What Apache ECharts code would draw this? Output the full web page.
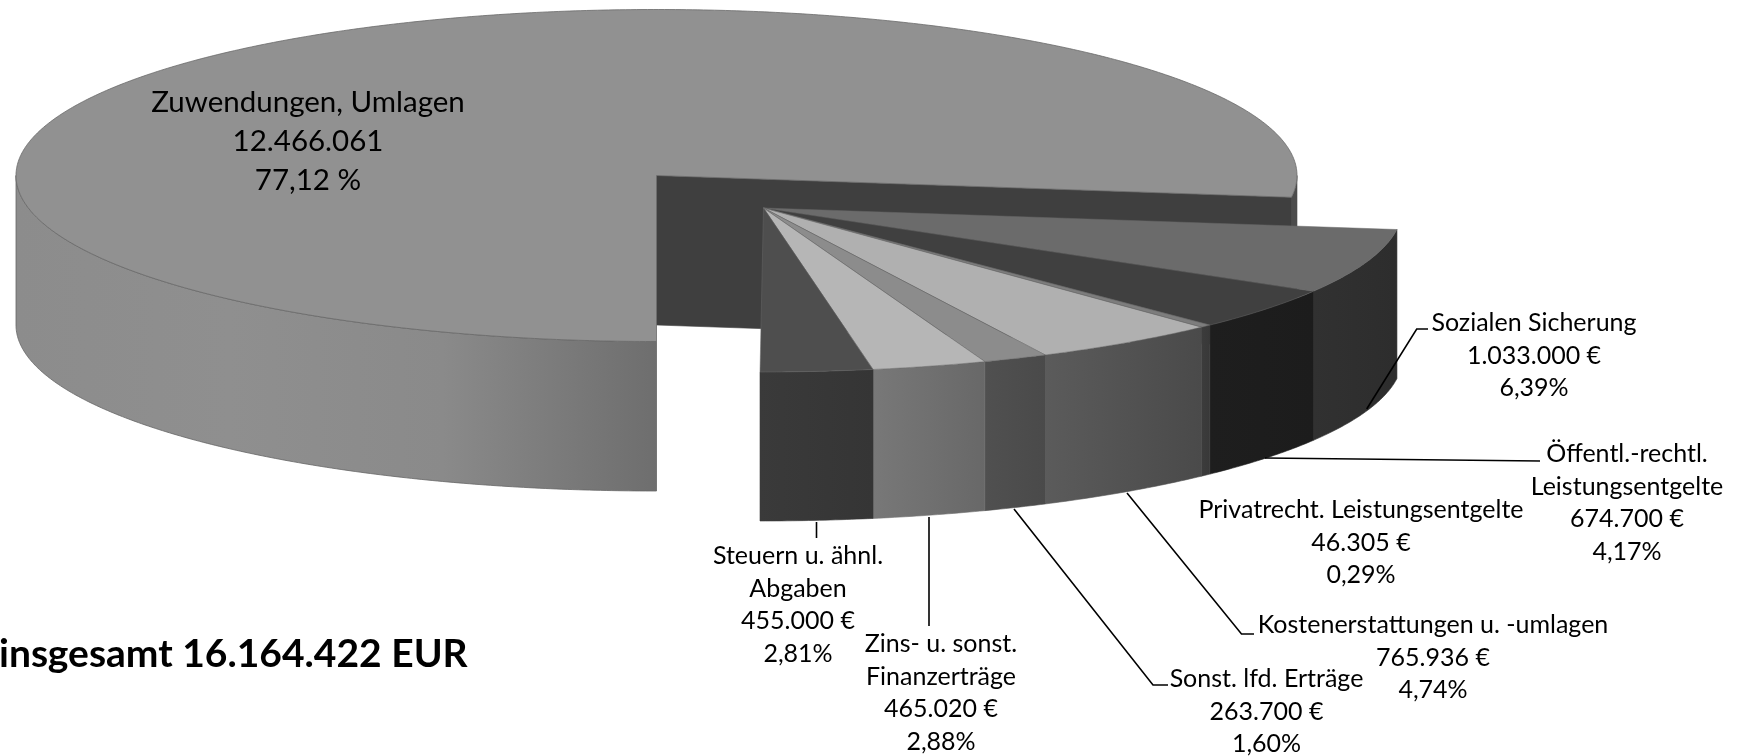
<!DOCTYPE html>
<html><head><meta charset="utf-8">
<style>html,body{margin:0;padding:0;background:#fff}#c{width:1738px;height:756px}</style>
<script src="https://cdn.jsdelivr.net/npm/echarts@6/dist/echarts.min.js"></script>
</head><body><div id="c"></div>
<script>
const sliceNames = ['Zuwendungen, Umlagen','Sozialen Sicherung','Öffentl.-rechtl.\nLeistungsentgelte','Privatrecht. Leistungsentgelte','Kostenerstattungen u. -umlagen','Sonst. lfd. Erträge','Zins- u. sonst.\nFinanzerträge','Steuern u. ähnl.\nAbgaben'];
const sliceValues = [12466061,1033000,674700,46305,765936,263700,465020,455000];
const valueLabels = ['12.466.061','1.033.000 €','674.700 €','46.305 €','765.936 €','263.700 €','465.020 €','455.000 €'];
const shareLabels = ['77,12 %','6,39%','4,17%','0,29%','4,74%','1,60%','2,88%','2,81%'];
const totalLabel = 'insgesamt 16.164.422 EUR';

/* styling and layout */
const topColors = ['#919191','#6b6b6b','#404040','#7d7d7d','#b0b0b0','#8c8c8c','#b6b6b6','#4e4e4e'];
const sideColors = [['#8c8c8c','#8f8f8f','#8a8a8a','#6e6e6e'],['#313131','#2d2d2d'],['#1e1e1e','#1c1c1c'],['#3c3c3c','#383838'],['#5b5b5b','#4a4a4a'],['#505050','#4a4a4a'],['#787878','#686868'],['#3a3a3a','#353535']];
const labelPos = [[308,102,39],[1534,323,32.7],[1627,454,32.7],[1361,510,32.7],[1433,625,32.7],[1266.5,679,32.7],[941,644,32.7],[798,556,32.7]];
const leaders = [null,[[1366.7,409],[1416.7,329],[1428,329]],[[1265,458],[1540,461]],null,[[1127,493],[1241.5,634],[1254,634]],[[1014,509],[1153,685],[1168,685]],[[929,517],[929,626]],[[816.5,522],[816.5,538]]];
const mainPie = {cx:656.5,cy:175.5,rx:640.5,ry:166,h:149.5};
const outPie = {cx:760,cy:208,rx:642.5,ry:164,h:149,ax:763.5,ay:208};
const FONT = 'Lato, "Open Sans", sans-serif';

const total = sliceValues.reduce((a,b)=>a+b,0);
const bounds = []; let acc = 90;
sliceValues.forEach(v=>{const s=acc; acc+=v/total*360; bounds.push([s,acc]);});
const rad = d=>d*Math.PI/180;
function arc(p,a,b,dy){const pts=[];const n=Math.max(2,Math.ceil(Math.abs(b-a)*2));
  for(let k=0;k<=n;k++){const t=rad(a+(b-a)*k/n);pts.push([p.cx+p.rx*Math.cos(t),p.cy+p.ry*Math.sin(t)+dy]);}return pts;}
function wall(p,a,b){return arc(p,a,b,0).concat(arc(p,b,a,p.h));}
function grad(cols){return {type:'linear',x:0,y:0,x2:1,y2:0,colorStops:cols.map((c,i)=>({offset:i/(cols.length-1),color:c}))};}
function poly(points,fill,stroke,w){return {type:'polygon',shape:{points},style:{fill,stroke:stroke||fill,lineWidth:w===undefined?0.6:w}};}

function renderSlice(params,api){
  const i=api.value(1); const [a,b]=bounds[i]; const ch=[];
  if(i===0){
    const p=mainPie; const e=rad(b);
    const ex=p.cx+p.rx*Math.cos(e), ey=p.cy+p.ry*Math.sin(e);
    ch.push(poly(wall(p,360,b),'#4c4c4c','#4c4c4c'));
    ch.push(poly([[p.cx,p.cy],[ex,ey],[ex,ey+p.h],[p.cx,p.cy+p.h]],'#3f3f3f'));
    ch.push(poly(wall(p,a,180),grad(sideColors[0]),'#666666',0.8));
    ch.push(poly([[p.cx,p.cy]].concat(arc(p,a,b,0)),topColors[0],'#6a6a6a',0.8));
  } else {
    const p=outPie; const s2=a>=360?a-360:a, t2=b>=360?b-360:b;
    ch.push(poly(wall(p,s2,t2),grad(sideColors[i])));
    ch.push(poly([[p.ax,p.ay]].concat(arc(p,s2,t2,0)),topColors[i],'#666666',0.5));
  }
  return {type:'group',children:ch};
}
function renderLabel(params,api){
  const i=api.value(0); const [x,y,lh]=labelPos[i]; const ch=[];
  const lines=sliceNames[i].split('\n').concat([valueLabels[i],shareLabels[i]]);
  lines.forEach((t,k)=>ch.push({type:'text',style:{text:t,x,y:y+k*lh,align:'center',verticalAlign:'middle',fill:'#000',font:(i===0?'29.5':'25')+'px '+FONT}}));
  if(leaders[i]) ch.push({type:'polyline',shape:{points:leaders[i]},style:{fill:'none',stroke:'#000',lineWidth:1.6}});
  return {type:'group',children:ch};
}
const chart=echarts.init(document.getElementById('c'),null,{renderer:'canvas'});
chart.setOption({
  animation:false,backgroundColor:'#fff',
  title:{text:totalLabel,left:-6,top:630,textStyle:{fontFamily:FONT,fontWeight:'bold',fontSize:39,color:'#000'}},
  series:[
    {type:'custom',coordinateSystem:'none',silent:true,z:2,data:sliceValues.map((v,i)=>[v,i]),encode:{},renderItem:renderSlice},
    {type:'custom',coordinateSystem:'none',silent:true,z:3,data:sliceNames.map((n,i)=>[i]),renderItem:renderLabel}
  ]
});
</script></body></html>
